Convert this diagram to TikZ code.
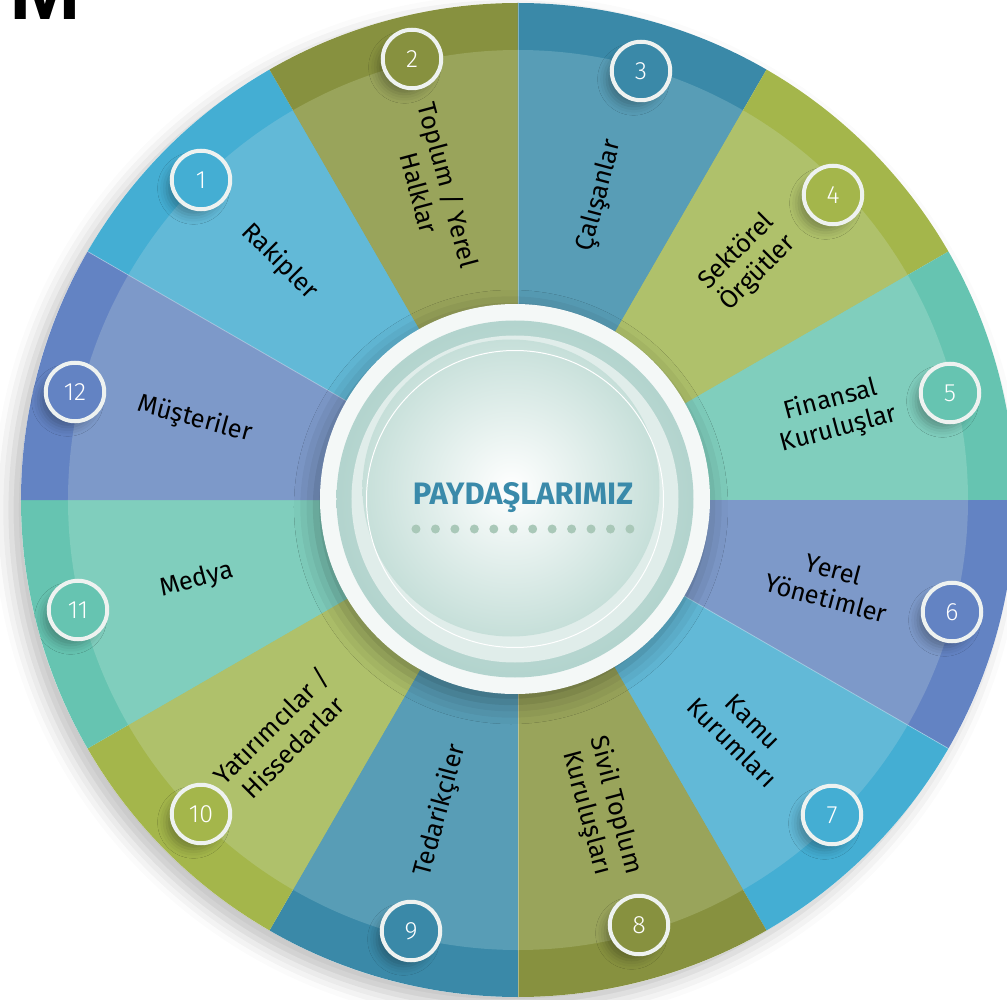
\documentclass[tikz,border=0pt]{standalone}
\usepackage{fontspec}
\setmainfont{Fira Sans}
\newfontfamily\numfont{Fira Sans}[UprightFont=* Light]
\newfontfamily\letterfont{Liberation Sans}
\usetikzlibrary{shadows.blur}

\definecolor{blueout}{HTML}{44AED3}
\definecolor{bluein}{HTML}{62B9D7}
\definecolor{oliveout}{HTML}{87913F}
\definecolor{olivein}{HTML}{99A45B}
\definecolor{tealout}{HTML}{3A89A8}
\definecolor{tealin}{HTML}{589DB6}
\definecolor{limeout}{HTML}{A4B64B}
\definecolor{limein}{HTML}{AFC16B}
\definecolor{mintout}{HTML}{66C4B1}
\definecolor{mintin}{HTML}{80CEBD}
\definecolor{lilacout}{HTML}{6383C3}
\definecolor{lilacin}{HTML}{7D99C9}
\definecolor{ringwhite}{HTML}{EEF2F0}
\definecolor{rimwhite}{HTML}{F4F8F7}
\definecolor{rimteal}{HTML}{AACFC8}
\definecolor{rimlight}{HTML}{E0EDEA}
\definecolor{spheregreen}{HTML}{C6DFD9}
\definecolor{titleblue}{HTML}{3A8AAA}
\definecolor{dotgreen}{HTML}{A9C8B8}

\begin{document}
\begin{tikzpicture}[
    x=1pt, y=1pt,
    num/.style={circle, draw=ringwhite, line width=4pt, minimum size=58.5pt, inner sep=0pt, text=white, font=\numfont\fontsize{25}{25}\selectfont, blur shadow={shadow xshift=-8pt, shadow yshift=-9pt, shadow scale=0.92, shadow blur radius=10pt, shadow opacity=30}},
    party/.style={align=center, inner sep=0pt, text=black, font=\fontsize{25.5}{30}\selectfont},
    split/.style={white, opacity=0.35, line width=0.8pt}
]
\useasboundingbox (-518,-499) rectangle (489,500);

% Letter at the corner
\node[anchor=base west, inner sep=0pt, font=\letterfont\bfseries\fontsize{86}{86}\selectfont] (corner) at (-509,480) {M};

% Wheel base with shadow
\fill[white, blur shadow={shadow xshift=-10pt, shadow yshift=-10pt, shadow blur radius=18pt, shadow opacity=25}] (0,0) circle (497);

% Outer ring
\fill[blueout] (0,0) -- (120:497) arc[start angle=120, end angle=150, radius=497] -- cycle;
\fill[oliveout] (0,0) -- (90:497) arc[start angle=90, end angle=120, radius=497] -- cycle;
\fill[tealout] (0,0) -- (60:497) arc[start angle=60, end angle=90, radius=497] -- cycle;
\fill[limeout] (0,0) -- (30:497) arc[start angle=30, end angle=60, radius=497] -- cycle;
\fill[mintout] (0,0) -- (0:497) arc[start angle=0, end angle=30, radius=497] -- cycle;
\fill[lilacout] (0,0) -- (-30:497) arc[start angle=-30, end angle=0, radius=497] -- cycle;
\fill[blueout] (0,0) -- (-60:497) arc[start angle=-60, end angle=-30, radius=497] -- cycle;
\fill[oliveout] (0,0) -- (-90:497) arc[start angle=-90, end angle=-60, radius=497] -- cycle;
\fill[tealout] (0,0) -- (-120:497) arc[start angle=-120, end angle=-90, radius=497] -- cycle;
\fill[limeout] (0,0) -- (-150:497) arc[start angle=-150, end angle=-120, radius=497] -- cycle;
\fill[mintout] (0,0) -- (180:497) arc[start angle=180, end angle=210, radius=497] -- cycle;
\fill[lilacout] (0,0) -- (150:497) arc[start angle=150, end angle=180, radius=497] -- cycle;

% Inner ring
\fill[bluein] (0,0) -- (120:450) arc[start angle=120, end angle=150, radius=450] -- cycle;
\fill[olivein] (0,0) -- (90:450) arc[start angle=90, end angle=120, radius=450] -- cycle;
\fill[tealin] (0,0) -- (60:450) arc[start angle=60, end angle=90, radius=450] -- cycle;
\fill[limein] (0,0) -- (30:450) arc[start angle=30, end angle=60, radius=450] -- cycle;
\fill[mintin] (0,0) -- (0:450) arc[start angle=0, end angle=30, radius=450] -- cycle;
\fill[lilacin] (0,0) -- (-30:450) arc[start angle=-30, end angle=0, radius=450] -- cycle;
\fill[bluein] (0,0) -- (-60:450) arc[start angle=-60, end angle=-30, radius=450] -- cycle;
\fill[olivein] (0,0) -- (-90:450) arc[start angle=-90, end angle=-60, radius=450] -- cycle;
\fill[tealin] (0,0) -- (-120:450) arc[start angle=-120, end angle=-90, radius=450] -- cycle;
\fill[limein] (0,0) -- (-150:450) arc[start angle=-150, end angle=-120, radius=450] -- cycle;
\fill[mintin] (0,0) -- (180:450) arc[start angle=180, end angle=210, radius=450] -- cycle;
\fill[lilacin] (0,0) -- (150:450) arc[start angle=150, end angle=180, radius=450] -- cycle;

% Segment borders
\draw[split] (0,0) -- (90:497);
\draw[split] (0,0) -- (-30:497);
\draw[split] (0,0) -- (-90:497);
\draw[split] (0,0) -- (150:497);

% Stakeholder labels
\node[party, rotate=-45] (rakipler) at (135:337) {Rakipler};
\node[party, rotate=-75] (toplum) at (105:322) {Toplum / Yerel\\Halklar};
\node[party, rotate=75] (calisanlar) at (75:315) {Çalışanlar};
\node[party, rotate=45] (sektorel) at (46:330) {Sektörel\\Örgütler};
\node[party, rotate=15] (finansal) at (15:328) {Finansal\\Kuruluşlar};
\node[party, rotate=-15] (yerel) at (-15:323) {Yerel\\Yönetimler};
\node[party, rotate=-45] (kamu) at (-46:323) {Kamu\\Kurumları};
\node[party, rotate=-75] (sivil) at (-75:320) {Sivil Toplum\\Kuruluşları};
\node[party, rotate=75] (tedarik) at (-104:320) {Tedarikçiler};
\node[party, rotate=45] (yatirim) at (-135:334) {Yatırımcılar /\\Hissedarlar};
\node[party, rotate=15] (medya) at (-166:331) {Medya};
\node[party, rotate=-15] (musteri) at (166:333) {Müşteriler};

% Number badges
\node[num, fill=blueout] (n1) at (-317,320) {1};
\node[num, fill=oliveout] (n2) at (-106,441) {2};
\node[num, fill=tealout] (n3) at (123,429) {3};
\node[num, fill=limeout] (n4) at (315,305) {4};
\node[num, fill=mintout] (n5) at (432,107) {5};
\node[num, fill=lilacout] (n6) at (434,-112) {6};
\node[num, fill=blueout] (n7) at (314,-315) {7};
\node[num, fill=oliveout] (n8) at (121,-425) {8};
\node[num, fill=tealout] (n9) at (-107,-431) {9};
\node[num, fill=limeout] (n10) at (-317,-314) {10};
\node[num, fill=mintout] (n11) at (-440,-110) {11};
\node[num, fill=lilacout] (n12) at (-443,108) {12};

% Centre disc
\fill[rimwhite, blur shadow={shadow xshift=-4pt, shadow yshift=-8pt, shadow blur radius=22pt, shadow opacity=35}] (-3,1) circle (195);
\shade[inner color=rimteal!50, outer color=rimteal!90] (-3,1) circle (178.5);
\fill[rimlight] (-3,1) circle (163.5);
\shade[inner color=white, outer color=spheregreen] (-7,12) circle (148.5);
\draw[white, line width=1pt] (-3,1) circle (148.5);

% Title
\node[inner sep=0pt, text=titleblue, font=\bfseries\fontsize{31}{32}\selectfont] (title) at (5,2) {PAYDAŞLARIMIZ};
\foreach \i in {0,...,11}
  \fill[dotgreen] (-102+\i*19.45,-29) circle (4.5);

\end{tikzpicture}
\end{document}
